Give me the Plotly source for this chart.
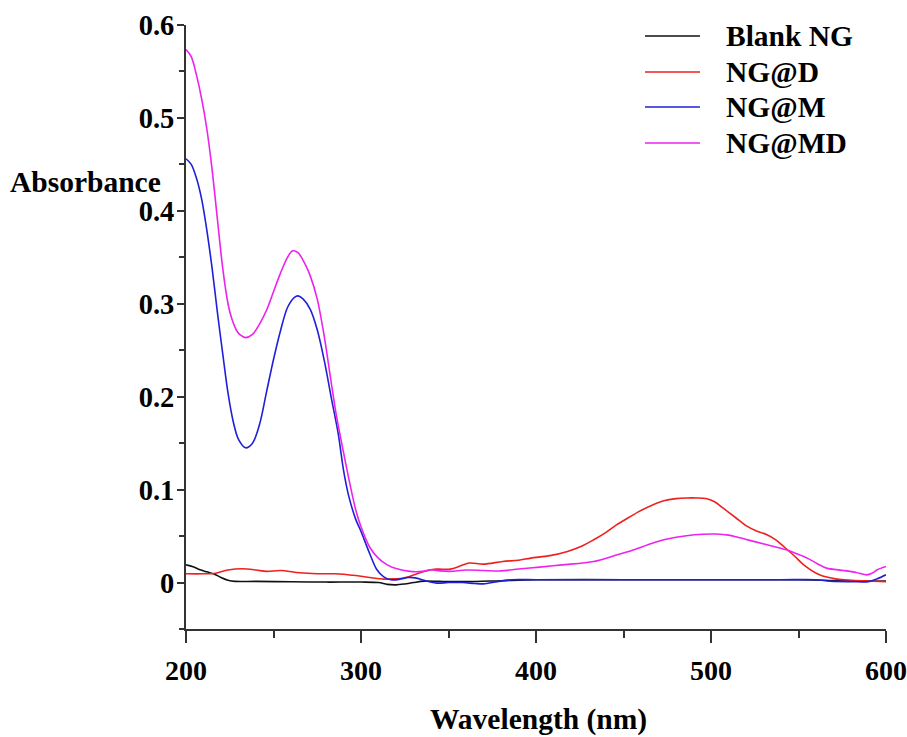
import plotly.graph_objects as go

# UV-Vis absorbance spectra (wavelength in nm)
blank_x = [200, 204, 208, 212, 216, 220, 224, 228, 240, 260, 280, 300, 310, 315,
           320, 325, 330, 336, 345, 360, 380, 400, 450, 500, 550, 565, 580, 600]
blank_y = [0.019, 0.017, 0.0137, 0.0115, 0.0092, 0.0055, 0.0025, 0.0012, 0.0012,
           0.0008, 0.0005, 0.0005, 0.0, -0.002, -0.0025, -0.0015, 0.0, 0.0015,
           0.0012, 0.001, 0.002, 0.003, 0.003, 0.003, 0.003, 0.0025, 0.0015, 0.0015]

ngd_x = [200, 210, 216, 224, 232, 240, 246, 254, 265, 275, 285, 297, 305, 313, 319,
         324, 330, 336, 343, 351, 357, 362, 370, 381, 390, 397, 408, 418, 426, 433,
         440, 446, 453, 459, 466, 473, 480, 486, 492, 497, 502, 507, 514, 520, 526,
         532, 537, 542, 548, 553, 562, 572, 580, 589, 600]
ngd_y = [0.0094, 0.0094, 0.0098, 0.0135, 0.0148, 0.0135, 0.012, 0.013, 0.0105,
         0.0095, 0.0094, 0.0075, 0.0055, 0.0037, 0.004, 0.0047, 0.008, 0.0119,
         0.0144, 0.0144, 0.018, 0.021, 0.0198, 0.0227, 0.024, 0.0263, 0.029, 0.0335,
         0.039, 0.046, 0.054, 0.062, 0.070, 0.0766, 0.083, 0.088, 0.0903, 0.091,
         0.091, 0.0905, 0.087, 0.080, 0.070, 0.0612, 0.0555, 0.0515, 0.046, 0.038,
         0.028, 0.019, 0.0083, 0.0037, 0.0025, 0.0018, 0.001]

ngm_x = [200, 203, 206, 209, 212, 215, 218, 221, 224, 227, 230, 234, 238, 242, 246,
         250, 254, 258, 262, 264, 267, 271, 275, 279, 283, 287, 290, 293, 297, 300,
         305, 309, 313, 317, 322, 327, 331, 337, 343, 350, 358, 365, 370, 378, 386,
         400, 450, 500, 540, 560, 568, 580, 590, 595, 600]
ngm_y = [0.456, 0.450, 0.435, 0.412, 0.378, 0.337, 0.29, 0.246, 0.204, 0.173, 0.154,
         0.145, 0.150, 0.170, 0.205, 0.240, 0.271, 0.296, 0.307, 0.3085, 0.305,
         0.294, 0.272, 0.239, 0.199, 0.160, 0.121, 0.093, 0.068, 0.055, 0.031,
         0.014, 0.006, 0.003, 0.0035, 0.0055, 0.005, 0.0018, -0.0006, 0.0, 0.0,
         -0.001, -0.0014, 0.001, 0.003, 0.003, 0.003, 0.003, 0.003, 0.003, 0.0015,
         0.001, 0.001, 0.004, 0.0083]

ngmd_x = [200, 203, 206, 209, 212, 215, 218, 221, 224, 226, 229, 231, 234, 238, 242,
          246, 250, 254, 258, 261, 264, 268, 271, 275, 279, 283, 286, 290, 293, 297,
          300, 305, 310, 315, 320, 328, 335, 340, 345, 351, 360, 370, 380, 390, 402,
          415, 433, 445, 456, 466, 475, 486, 495, 503, 510, 517, 525, 532, 543, 549,
          555, 561, 566, 576, 583, 589, 592, 595, 600]
ngmd_y = [0.5736, 0.566, 0.546, 0.52, 0.487, 0.443, 0.39, 0.338, 0.300, 0.285, 0.271,
          0.2665, 0.2636, 0.267, 0.278, 0.293, 0.313, 0.333, 0.350, 0.357, 0.355,
          0.343, 0.330, 0.305, 0.265, 0.215, 0.179, 0.14, 0.112, 0.078, 0.06, 0.038,
          0.026, 0.019, 0.015, 0.012, 0.012, 0.0137, 0.0125, 0.012, 0.0135, 0.013,
          0.0125, 0.0145, 0.0166, 0.019, 0.0227, 0.029, 0.0353, 0.042, 0.0468,
          0.0504, 0.052, 0.0522, 0.051, 0.0479, 0.044, 0.0407, 0.0353, 0.031,
          0.0263, 0.020, 0.0155, 0.0129, 0.0108, 0.0083, 0.010, 0.0137, 0.0173]

names = ["Blank NG", "NG@D", "NG@M", "NG@MD"]
colors = ["#111111", "#ee2020", "#2020d8", "#ee22ee"]
series = [(blank_x, blank_y), (ngd_x, ngd_y), (ngm_x, ngm_y), (ngmd_x, ngmd_y)]

x_ticks = [200, 300, 400, 500, 600]
y_ticks = [0, 0.1, 0.2, 0.3, 0.4, 0.5, 0.6]
y_ticktext = ["0", "0.1", "0.2", "0.3", "0.4", "0.5", "0.6"]

FONT = "Liberation Serif"
AXIS_COLOR = "#333333"
TEXT_SIZE = 29.5

fig = go.Figure()
for name, color, (xs, ys) in zip(names, colors, series):
    fig.add_trace(go.Scatter(
        x=xs, y=ys, name=name, mode="lines",
        line=dict(color=color, width=1.6, shape="spline", smoothing=0.9),
        showlegend=False,
    ))

# Legend drawn as short line samples with bold labels
legend_rows = [36, 72, 107, 143]          # pixel rows from the top of the page
plot_left, plot_width = 186, 700
plot_top, plot_height = 25, 604
for name, color, row in zip(names, colors, legend_rows):
    yp = (plot_top + plot_height - row) / plot_height
    fig.add_shape(type="line", xref="paper", yref="paper",
                  x0=(645 - plot_left) / plot_width, x1=(700 - plot_left) / plot_width,
                  y0=yp, y1=yp, line=dict(color=color, width=1.6))
    fig.add_annotation(xref="paper", yref="paper",
                       x=(724 - plot_left) / plot_width, y=yp,
                       xanchor="left", yanchor="middle", showarrow=False,
                       text=name,
                       font=dict(family=FONT, size=TEXT_SIZE, color="black", weight="bold"))

# Axis titles
fig.add_annotation(xref="paper", yref="paper", x=(85 - plot_left) / plot_width,
                   y=(plot_top + plot_height - 182) / plot_height,
                   xanchor="center", yanchor="middle", showarrow=False,
                   text="Absorbance",
                   font=dict(family=FONT, size=TEXT_SIZE, color="black", weight="bold"))
fig.add_annotation(xref="paper", yref="paper", x=(538 - plot_left) / plot_width,
                   y=(plot_top + plot_height - 719) / plot_height,
                   xanchor="center", yanchor="middle", showarrow=False,
                   text="Wavelength (nm)",
                   font=dict(family=FONT, size=TEXT_SIZE, color="black", weight="bold"))

fig.update_layout(
    width=907, height=737,
    margin=dict(l=186, r=21, t=25, b=108, autoexpand=False),
    paper_bgcolor="white", plot_bgcolor="white",
)
fig.update_xaxes(
    range=[200, 600], tickvals=x_ticks, ticks="outside", ticklen=12, tickwidth=1.5,
    tickcolor=AXIS_COLOR, showline=True, linecolor=AXIS_COLOR, linewidth=2,
    showgrid=False, zeroline=False, ticklabelstandoff=3, automargin=False,
    tickfont=dict(family=FONT, size=28, color="black", weight="bold"),
    minor=dict(tick0=200, dtick=50, ticks="outside", ticklen=7, tickwidth=1.5,
               tickcolor=AXIS_COLOR, showgrid=False),
)
fig.update_yaxes(
    range=[-0.05, 0.6], tickvals=y_ticks, ticktext=y_ticktext, ticks="outside",
    ticklen=7, tickwidth=1.5, tickcolor=AXIS_COLOR, showline=True,
    linecolor=AXIS_COLOR, linewidth=2, showgrid=False, zeroline=False,
    ticklabelstandoff=-3, automargin=False,
    tickfont=dict(family=FONT, size=28.5, color="black", weight="bold"),
    minor=dict(tick0=0, dtick=0.05, ticks="outside", ticklen=5, tickwidth=1.5,
               tickcolor=AXIS_COLOR, showgrid=False),
)

fig.write_html("out.html")
